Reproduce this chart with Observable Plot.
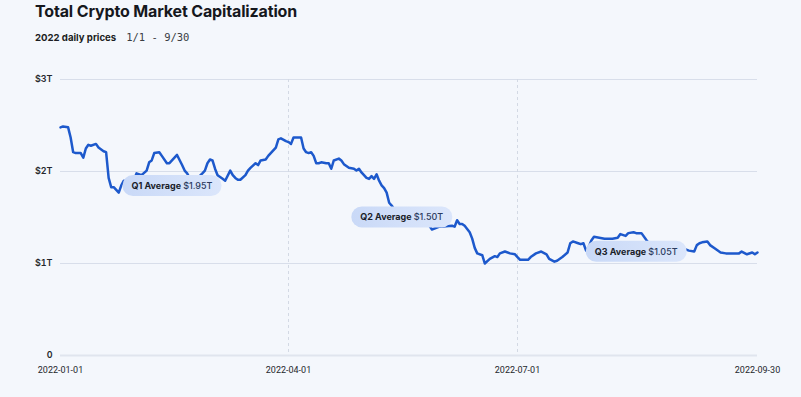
<!DOCTYPE html>
<html>
<head>
<meta charset="utf-8">
<script src="https://cdn.jsdelivr.net/npm/d3@7"></script>
<script src="https://cdn.jsdelivr.net/npm/@observablehq/plot@0.6"></script>
<style>
  html, body { margin: 0; padding: 0; background: #f4f7fc; }
  body { width: 801px; height: 397px; overflow: hidden; font-family: Inter, "Noto Sans", sans-serif; }
  #head { position: relative; height: 50px; }
  #title { position: absolute; left: 35px; top: 1px; margin: 0; font-size: 16px; font-weight: 700; color: #16181d; letter-spacing: -0.15px; white-space: nowrap; }
  #sub { position: absolute; left: 35px; top: 31px; font-size: 9.6px; font-weight: 700; color: #1b1d22; white-space: nowrap; }
  #sub .range { font-family: "DejaVu Sans Mono", monospace; font-weight: 400; font-size: 10.5px; color: #3a3d44; margin-left: 10px; }
  #chart svg { display: block; }
  #chart g[aria-label="y-axis tick label"] text { font-weight: 600; }
  #chart g[aria-label="x-axis tick label"] text { font-family: Roboto, Inter, sans-serif; font-size: 9px; }
</style>
</head>
<body>
<div id="head">
  <h1 id="title">Total Crypto Market Capitalization</h1>
  <div id="sub">2022 daily prices<span class="range">1/1 - 9/30</span></div>
</div>
<div id="chart"></div>
<script>
// ---- data (total market cap, trillions USD) ----
const dates = [
  "2022-01-01","2022-01-02","2022-01-04","2022-01-05","2022-01-06","2022-01-07","2022-01-09","2022-01-10","2022-01-11","2022-01-12",
  "2022-01-13","2022-01-15","2022-01-16","2022-01-18","2022-01-19","2022-01-20","2022-01-21","2022-01-22","2022-01-24","2022-01-25",
  "2022-01-26","2022-01-27","2022-01-29","2022-01-31",
  "2022-02-02","2022-02-04","2022-02-05","2022-02-06","2022-02-07","2022-02-09","2022-02-10","2022-02-12","2022-02-13","2022-02-14",
  "2022-02-16","2022-02-18","2022-02-19","2022-02-20","2022-02-22","2022-02-26","2022-02-27","2022-02-28",
  "2022-03-01","2022-03-02","2022-03-03","2022-03-04","2022-03-06","2022-03-07","2022-03-09","2022-03-10","2022-03-11","2022-03-12",
  "2022-03-13","2022-03-15","2022-03-16","2022-03-17","2022-03-19","2022-03-20","2022-03-21","2022-03-23","2022-03-24","2022-03-25",
  "2022-03-27","2022-03-28","2022-03-29","2022-03-31",
  "2022-04-01","2022-04-02","2022-04-03","2022-04-05","2022-04-06","2022-04-07","2022-04-08","2022-04-09","2022-04-10","2022-04-11",
  "2022-04-12","2022-04-13","2022-04-14","2022-04-16","2022-04-17","2022-04-18","2022-04-19","2022-04-21","2022-04-22","2022-04-23",
  "2022-04-25","2022-04-27","2022-04-28","2022-04-29","2022-04-30",
  "2022-05-02","2022-05-03","2022-05-04","2022-05-05","2022-05-06","2022-05-07","2022-05-08","2022-05-09","2022-05-10","2022-05-11",
  "2022-05-12","2022-05-14","2022-05-18","2022-05-22","2022-05-26","2022-05-28","2022-05-31",
  "2022-06-05","2022-06-06","2022-06-07","2022-06-08","2022-06-09","2022-06-10","2022-06-12","2022-06-13","2022-06-14","2022-06-15",
  "2022-06-17","2022-06-18","2022-06-20","2022-06-22","2022-06-23","2022-06-24","2022-06-26","2022-06-28","2022-06-30",
  "2022-07-01","2022-07-02","2022-07-03","2022-07-05","2022-07-06","2022-07-08","2022-07-10","2022-07-12","2022-07-13","2022-07-15",
  "2022-07-16","2022-07-18","2022-07-20","2022-07-21","2022-07-22","2022-07-24","2022-07-25","2022-07-26","2022-07-27","2022-07-28",
  "2022-07-29","2022-07-30",
  "2022-08-01","2022-08-03","2022-08-06","2022-08-08","2022-08-09","2022-08-11","2022-08-12","2022-08-14","2022-08-15","2022-08-17",
  "2022-08-19","2022-08-22","2022-08-26","2022-08-30",
  "2022-09-02","2022-09-04","2022-09-06","2022-09-07","2022-09-08","2022-09-09","2022-09-11","2022-09-12","2022-09-14","2022-09-16",
  "2022-09-18","2022-09-19","2022-09-21","2022-09-23","2022-09-24","2022-09-26","2022-09-28","2022-09-29","2022-09-30"
];
const caps = [
  2.48,2.49,2.48,2.37,2.21,2.20,2.20,2.15,2.25,2.29,
  2.28,2.30,2.26,2.22,2.21,1.93,1.83,1.83,1.77,1.85,
  1.90,1.83,1.84,1.98,
  1.96,2.01,2.10,2.12,2.20,2.21,2.17,2.09,2.09,2.12,
  2.18,2.07,2.01,1.98,1.87,1.98,2.01,2.09,
  2.13,2.12,2.03,1.96,1.92,1.90,2.01,1.96,1.93,1.91,
  1.91,1.96,2.01,2.04,2.09,2.07,2.12,2.13,2.17,2.20,
  2.26,2.35,2.36,2.33,
  2.32,2.30,2.37,2.37,2.37,2.25,2.21,2.20,2.21,2.17,
  2.09,2.09,2.10,2.09,2.09,2.03,2.12,2.14,2.12,2.08,
  2.04,2.03,2.01,2.03,1.99,
  1.93,1.92,1.95,1.92,1.97,1.90,1.85,1.82,1.77,1.66,
  1.63,1.55,1.52,1.53,1.45,1.37,1.40,
  1.41,1.40,1.47,1.43,1.43,1.41,1.34,1.27,1.17,1.11,
  1.09,1.00,1.05,1.08,1.07,1.11,1.13,1.11,1.10,
  1.07,1.04,1.04,1.04,1.07,1.11,1.13,1.10,1.05,1.02,
  1.03,1.07,1.12,1.22,1.24,1.22,1.21,1.22,1.14,1.18,
  1.25,1.29,
  1.28,1.27,1.27,1.28,1.32,1.30,1.33,1.34,1.33,1.33,
  1.25,1.14,1.12,1.14,
  1.16,1.14,1.13,1.20,1.22,1.23,1.24,1.20,1.16,1.12,
  1.11,1.11,1.11,1.11,1.13,1.10,1.12,1.10,1.12
];
const quarters = ["Q1", "Q2", "Q3"];
const quarterAverages = [1.95, 1.50, 1.05];
const quarterMidDates = ["2022-02-14", "2022-05-16", "2022-08-15"];
const xTicks = ["2022-01-01", "2022-04-01", "2022-07-01", "2022-09-30"];
const quarterStarts = ["2022-04-01", "2022-07-01"];
const yTicks = [0, 1, 2, 3];

// ---- build table ----
const parse = d3.utcParse("%Y-%m-%d");
const series = dates.map((d, i) => ({date: parse(d), cap: caps[i]}));
const labels = quarters.map((q, i) => ({
  date: parse(quarterMidDates[i]),
  avg: quarterAverages[i],
  text: `${q} Average $${quarterAverages[i].toFixed(2)}T`
}));
const labelDy = [10, 0, -7];

const chart = Plot.plot({
  width: 801,
  height: 347,
  marginTop: 29,
  marginBottom: 42,
  marginLeft: 60,
  marginRight: 44,
  style: {background: "transparent", fontFamily: "Inter, 'Noto Sans', sans-serif", fontSize: "9px", color: "#25272c"},
  x: {
    type: "utc",
    domain: [parse("2022-01-01"), parse("2022-04-01"), parse("2022-07-01"), parse("2022-09-30")],
    range: [60, 288, 517, 757],
    ticks: xTicks.map(parse),
    tickFormat: d3.utcFormat("%Y-%m-%d"),
    tickSize: 0,
    tickPadding: 11,
    label: null
  },
  y: {
    domain: [0, 3],
    ticks: yTicks,
    tickFormat: d => d === 0 ? "0" : `$${d}T`,
    tickSize: 0,
    tickPadding: 8,
    label: null
  },
  marks: [
    Plot.ruleY(yTicks.filter(d => d > 0), {stroke: "#d8deea", strokeWidth: 1}),
    Plot.ruleY([0], {stroke: "#e0e5ee", strokeWidth: 2}),
    Plot.ruleX(quarterStarts.map(parse), {stroke: "#d3d9e4", strokeWidth: 1, strokeDasharray: "3,3"}),
    Plot.line(series, {x: "date", y: "cap", stroke: "#1d59cc", strokeWidth: 2.5, strokeLinejoin: "round", strokeLinecap: "round"}),
    ...labels.map((l, i) => Plot.text([l], {x: "date", y: "avg", text: "text", dy: labelDy[i], fontSize: 9, fill: "#1a1d29"}))
  ]
});

document.getElementById("chart").append(chart);

// pill backgrounds behind the quarter labels
const svg = d3.select(chart);
const defs = svg.insert("defs", ":first-child");
const grad = defs.append("linearGradient").attr("id", "pillGrad").attr("x1", "0").attr("x2", "1").attr("y1", "0").attr("y2", "0");
grad.append("stop").attr("offset", "0%").attr("stop-color", "#c9d9f7");
grad.append("stop").attr("offset", "100%").attr("stop-color", "#dbe6fb");

svg.selectAll('g[aria-label="text"] text').each(function() {
  const t = this;
  const s = t.textContent;
  const k = s.indexOf("$");
  t.textContent = "";
  d3.select(t).append("tspan").attr("font-weight", 700).attr("fill", "#1a1d29").text(s.slice(0, k));
  d3.select(t).append("tspan").attr("font-weight", 500).attr("fill", "#2b3b60").text(s.slice(k));
  const b = t.getBBox();
  const padX = 9, h = 21;
  const r = document.createElementNS("http://www.w3.org/2000/svg", "rect");
  r.setAttribute("x", b.x - padX);
  r.setAttribute("y", b.y + b.height / 2 - h / 2);
  r.setAttribute("width", b.width + 2 * padX);
  r.setAttribute("height", h);
  r.setAttribute("rx", h / 2);
  r.setAttribute("fill", "url(#pillGrad)");
  if (t.getAttribute("transform")) r.setAttribute("transform", t.getAttribute("transform"));
  t.parentNode.insertBefore(r, t);
});
</script>
</body>
</html>
